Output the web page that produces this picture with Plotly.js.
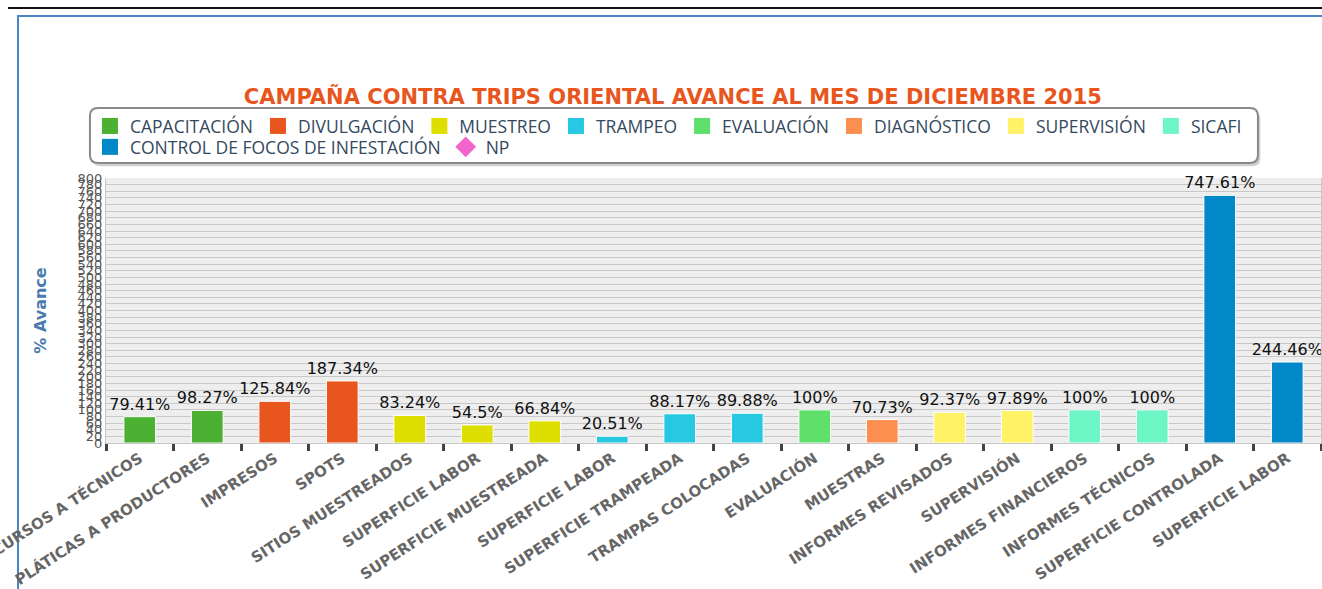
<!DOCTYPE html>
<html>
<head>
<meta charset="utf-8">
<script src="https://cdn.plot.ly/plotly-3.0.1.min.js"></script>
<style>
  html, body { margin: 0; padding: 0; background: #ffffff; }
  #topline { position: absolute; left: 8px; top: 7px; width: 1314px; height: 2px; background: #111; }
  #frame { position: absolute; left: 17px; top: 15px; width: 1310px; height: 580px; border-left: 2px solid #4a86c5; border-top: 2px solid #4a86c5; }
  #chart { position: absolute; left: 0; top: 0; width: 1322px; height: 589px; }
</style>
</head>
<body>
<div id="topline"></div>
<div id="frame"></div>
<div id="chart"></div>
<script>
// ---- data ----
const categories = [
  "CURSOS A TÉCNICOS", "PLÁTICAS A PRODUCTORES", "IMPRESOS", "SPOTS",
  "SITIOS MUESTREADOS", "SUPERFICIE LABOR", "SUPERFICIE MUESTREADA", "SUPERFICIE LABOR",
  "SUPERFICIE TRAMPEADA", "TRAMPAS COLOCADAS", "EVALUACIÓN", "MUESTRAS",
  "INFORMES REVISADOS", "SUPERVISIÓN", "INFORMES FINANCIEROS", "INFORMES TÉCNICOS",
  "SUPERFICIE CONTROLADA", "SUPERFICIE LABOR"
];
const values = [79.41, 98.27, 125.84, 187.34, 83.24, 54.5, 66.84, 20.51, 88.17, 89.88, 100, 70.73, 92.37, 97.89, 100, 100, 747.61, 244.46];
const groupOf = [
  "CAPACITACIÓN", "CAPACITACIÓN", "DIVULGACIÓN", "DIVULGACIÓN",
  "MUESTREO", "MUESTREO", "MUESTREO", "TRAMPEO", "TRAMPEO", "TRAMPEO",
  "EVALUACIÓN", "DIAGNÓSTICO", "SUPERVISIÓN", "SUPERVISIÓN", "SICAFI", "SICAFI",
  "CONTROL DE FOCOS DE INFESTACIÓN", "CONTROL DE FOCOS DE INFESTACIÓN"
];
const groups = ["CAPACITACIÓN", "DIVULGACIÓN", "MUESTREO", "TRAMPEO", "EVALUACIÓN", "DIAGNÓSTICO", "SUPERVISIÓN", "SICAFI", "CONTROL DE FOCOS DE INFESTACIÓN"];
const groupColors = ["#4cb032", "#e8561e", "#dede00", "#26c8e2", "#5ee06a", "#fb8f50", "#fff266", "#6ef5c6", "#0088c8"];
const npName = "NP";
const npColor = "#f266cc";

// ---- traces ----
const idx = categories.map((_, i) => i);
const traces = [];
groups.forEach((g, gi) => {
  const xs = [], ys = [], tx = [];
  idx.forEach(i => { if (groupOf[i] === g) { xs.push(i); ys.push(values[i]); tx.push(values[i] + "%"); } });
  traces.push({
    type: "bar", name: g, x: xs, y: ys, text: tx,
    textposition: "outside", cliponaxis: false, textangle: 0, constraintext: "none",
    textfont: { family: "DejaVu Sans", size: 16, color: "#111" },
    marker: { color: groupColors[gi], line: { color: "#ffffff", width: 1 } },
    width: 0.47, showlegend: false
  });
});
// legend entries (first row: all groups but the last; second row: last group + NP)
groups.forEach((g, gi) => {
  traces.push({
    type: "scatter", mode: "markers", name: g, x: [null], y: [null],
    legend: gi < groups.length - 1 ? "legend" : "legend2",
    marker: { symbol: "square", color: groupColors[gi], size: 16 }
  });
});
traces.push({
  type: "scatter", mode: "markers", name: npName, x: [null], y: [null], legend: "legend2",
  marker: { symbol: "diamond", color: npColor, size: 16 }
});

const boundaries = idx.concat([categories.length]).map(i => i - 0.5);

// legend box geometry (paper coords)
const bx0 = -0.0132, bx1 = 0.9481, by0 = 1.0566, by1 = 1.2642;
const rx = 0.0066, ry = 0.03;
function roundRect(x0, y0, x1, y1) {
  return `M ${x0 + rx} ${y0} L ${x1 - rx} ${y0} Q ${x1} ${y0} ${x1} ${y0 + ry} L ${x1} ${y1 - ry} Q ${x1} ${y1} ${x1 - rx} ${y1} ` +
         `L ${x0 + rx} ${y1} Q ${x0} ${y1} ${x0} ${y1 - ry} L ${x0} ${y0 + ry} Q ${x0} ${y0} ${x0 + rx} ${y0} Z`;
}

const legendFont = { family: "Open Sans", size: 17.5, color: "#34495e" };

const layout = {
  width: 1322, height: 589,
  paper_bgcolor: "rgba(0,0,0,0)",
  plot_bgcolor: "#eeeeee",
  margin: { l: 106, r: 1, t: 178, b: 146 },
  barmode: "overlay",
  showlegend: true,
  title: {
    text: "CAMPAÑA CONTRA TRIPS ORIENTAL AVANCE AL MES DE DICIEMBRE 2015",
    font: { family: "DejaVu Sans", size: 21, color: "#e8561e", weight: "bold" },
    x: 0.509, xanchor: "center", y: 1 - 97 / 589, yanchor: "middle", yref: "container"
  },
  legend: {
    orientation: "h", x: bx0, xanchor: "left", y: 1.196, yanchor: "middle",
    bgcolor: "rgba(0,0,0,0)", borderwidth: 0, font: legendFont,
    itemwidth: 30, traceorder: "normal"
  },
  legend2: {
    orientation: "h", x: bx0, xanchor: "left", y: 1.117, yanchor: "middle",
    bgcolor: "rgba(0,0,0,0)", borderwidth: 0, font: legendFont,
    itemwidth: 30, traceorder: "normal"
  },
  shapes: [
    { type: "path", xref: "paper", yref: "paper", layer: "above",
      path: roundRect(bx0 + 0.002, by0 - 0.012, bx1 + 0.002, by1 - 0.012),
      fillcolor: "rgba(0,0,0,0.18)", line: { width: 0 } },
    { type: "path", xref: "paper", yref: "paper", layer: "above",
      path: roundRect(bx0, by0, bx1, by1),
      fillcolor: "#ffffff", line: { color: "#8a8a8a", width: 2 } }
  ],
  xaxis: {
    range: [-0.5, categories.length - 0.5],
    tickmode: "array", tickvals: idx, ticktext: categories,
    ticks: "", tickangle: -33, ticklabeloverflow: "allow",
    tickfont: { family: "DejaVu Sans", size: 15, color: "#666666", weight: "bold" },
    showgrid: false, zeroline: false, showline: true, linecolor: "#c8c8c8", linewidth: 1,
    minor: { tickmode: "array", tickvals: boundaries, ticks: "outside", ticklen: 7, tickwidth: 3, tickcolor: "#444444", showgrid: false }
  },
  yaxis: {
    range: [0, 800], dtick: 20, tick0: 0,
    title: { text: "% Avance", font: { family: "DejaVu Sans", size: 16, color: "#4a7ab0", weight: "bold" }, standoff: 26 },
    tickfont: { family: "DejaVu Sans", size: 13, color: "#555555" },
    gridcolor: "#c8c8c8", gridwidth: 1, zeroline: false,
    showline: true, linecolor: "#c8c8c8", mirror: true, ticks: ""
  }
};

Plotly.newPlot("chart", traces, layout, { displayModeBar: false, staticPlot: true });
</script>
</body>
</html>
